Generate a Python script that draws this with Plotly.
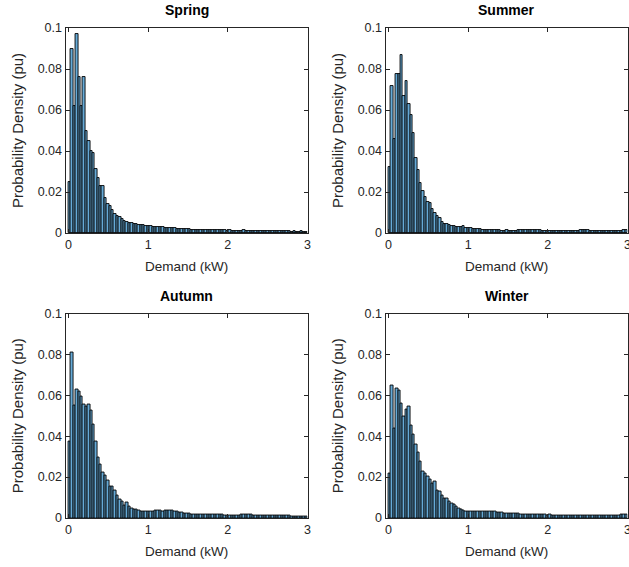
import plotly.graph_objects as go

# Histogram bins: 0.03 kW wide, 0 to 3 kW
BIN_WIDTH = 0.03
N_BINS = 100
bin_centers = [BIN_WIDTH * (k + 0.5) for k in range(N_BINS)]

seasons = ["Spring", "Summer", "Autumn", "Winter"]

spring = [
    0.025, 0.090, 0.062, 0.097, 0.076, 0.062, 0.076, 0.050, 0.045, 0.040,
    0.039, 0.031, 0.027, 0.023, 0.023, 0.017, 0.014, 0.013, 0.011, 0.0095,
    0.0085, 0.0078, 0.0068, 0.0060, 0.0055, 0.0050, 0.0047, 0.0045, 0.0043, 0.0041,
    0.0040, 0.0038, 0.0036, 0.0035, 0.0033, 0.0031, 0.0030, 0.0029, 0.0028, 0.0027,
    0.0025, 0.0025, 0.0023, 0.0022, 0.0022, 0.0021, 0.0020, 0.0019, 0.0019, 0.0018,
    0.0018, 0.0017, 0.0017, 0.0016, 0.0016, 0.0015, 0.0016, 0.0015, 0.0014, 0.0015,
    0.0014, 0.0014, 0.0013, 0.0014, 0.0013, 0.0013, 0.0012, 0.0013, 0.0012, 0.0012,
    0.0012, 0.0011, 0.0012, 0.0013, 0.0011, 0.0011, 0.0010, 0.0011, 0.0010, 0.0010,
    0.0010, 0.0011, 0.0009, 0.0010, 0.0009, 0.0009, 0.0010, 0.0008, 0.0009, 0.0008,
    0.0008, 0.0009, 0.0008, 0.0007, 0.0008, 0.0007, 0.0007, 0.0008, 0.0006, 0.0007,
]

summer = [
    0.0324, 0.0717, 0.0460, 0.0774, 0.0774, 0.0868, 0.0670, 0.0740, 0.0630, 0.0576,
    0.0486, 0.0364, 0.0307, 0.0246, 0.0205, 0.0177, 0.0153, 0.0145, 0.0115, 0.0096,
    0.0083, 0.0072, 0.0055, 0.0046, 0.0042, 0.0040, 0.0034, 0.0033, 0.0030, 0.0029,
    0.0028, 0.0032, 0.0026, 0.0024, 0.0023, 0.0021, 0.0020, 0.0019, 0.0018, 0.0017,
    0.0016, 0.0016, 0.0015, 0.0014, 0.0014, 0.0013, 0.0013, 0.0012, 0.0012, 0.0013,
    0.0012, 0.0011, 0.0012, 0.0012, 0.0013, 0.0014, 0.0013, 0.0014, 0.0015, 0.0016,
    0.0017, 0.0016, 0.0015, 0.0013, 0.0012, 0.0011, 0.0011, 0.0010, 0.0010, 0.0011,
    0.0010, 0.0010, 0.0011, 0.0010, 0.0009, 0.0010, 0.0009, 0.0010, 0.0011, 0.0012,
    0.0013, 0.0014, 0.0015, 0.0014, 0.0012, 0.0011, 0.0010, 0.0009, 0.0009, 0.0008,
    0.0008, 0.0009, 0.0008, 0.0008, 0.0009, 0.0010, 0.0011, 0.0012, 0.0013, 0.0014,
]

autumn = [
    0.0374, 0.0810, 0.0550, 0.0627, 0.0617, 0.0593, 0.0553, 0.0546, 0.0557, 0.0525,
    0.0455, 0.0376, 0.0298, 0.0263, 0.0222, 0.0206, 0.0182, 0.0156, 0.0152, 0.0136,
    0.0112, 0.0091, 0.0083, 0.0063, 0.0075, 0.0058, 0.0047, 0.0042, 0.0042, 0.0036,
    0.0034, 0.0033, 0.0032, 0.0033, 0.0031, 0.0034, 0.0036, 0.0038, 0.0036, 0.0033,
    0.0035, 0.0038, 0.0039, 0.0036, 0.0032, 0.0030, 0.0027, 0.0025, 0.0022, 0.0021,
    0.0020, 0.0019, 0.0018, 0.0019, 0.0018, 0.0018, 0.0017, 0.0018, 0.0018, 0.0017,
    0.0017, 0.0016, 0.0017, 0.0016, 0.0015, 0.0014, 0.0013, 0.0013, 0.0014, 0.0013,
    0.0013, 0.0014, 0.0015, 0.0017, 0.0018, 0.0017, 0.0015, 0.0013, 0.0012, 0.0011,
    0.0011, 0.0011, 0.0010, 0.0011, 0.0010, 0.0010, 0.0011, 0.0010, 0.0011, 0.0013,
    0.0014, 0.0013, 0.0010, 0.0009, 0.0008, 0.0008, 0.0009, 0.0008, 0.0008, 0.0007,
]

winter = [
    0.0220, 0.0647, 0.0436, 0.0635, 0.0622, 0.0560, 0.0496, 0.0533, 0.0546, 0.0452,
    0.0408, 0.0358, 0.0322, 0.0274, 0.0225, 0.0217, 0.0201, 0.0190, 0.0168, 0.0178,
    0.0136, 0.0128, 0.0112, 0.0097, 0.0097, 0.0082, 0.0072, 0.0065, 0.0055, 0.0048,
    0.0042, 0.0038, 0.0034, 0.0033, 0.0032, 0.0033, 0.0033, 0.0034, 0.0033, 0.0032,
    0.0033, 0.0032, 0.0031, 0.0030, 0.0031, 0.0029, 0.0028, 0.0026, 0.0024, 0.0023,
    0.0022, 0.0021, 0.0021, 0.0020, 0.0020, 0.0019, 0.0019, 0.0018, 0.0018, 0.0017,
    0.0017, 0.0016, 0.0016, 0.0016, 0.0015, 0.0015, 0.0014, 0.0015, 0.0014, 0.0014,
    0.0013, 0.0014, 0.0013, 0.0013, 0.0012, 0.0013, 0.0012, 0.0012, 0.0011, 0.0012,
    0.0011, 0.0012, 0.0011, 0.0011, 0.0010, 0.0011, 0.0010, 0.0011, 0.0012, 0.0013,
    0.0013, 0.0012, 0.0011, 0.0011, 0.0012, 0.0013, 0.0014, 0.0016, 0.0017, 0.0018,
]

series = [spring, summer, autumn, winter]

x_ticks = [0, 1, 2, 3]
x_tick_labels = ["0", "1", "2", "3"]
y_ticks = [0, 0.02, 0.04, 0.06, 0.08, 0.1]
y_tick_labels = ["0", "0.02", "0.04", "0.06", "0.08", "0.1"]

W, H = 629, 567
FONT = "Liberation Sans, Arial, Helvetica, sans-serif"
AXIS_COLOR = "#262626"
BAR_FILL = "rgb(102,170,215)"


def px_x(v):
    return v / W


def px_y(v):
    return 1 - v / H


# Panel boxes in pixels: (left, right, top, bottom)
boxes = [
    (65.5, 307.5, 28.0, 233.0),
    (385.5, 627.5, 28.0, 233.0),
    (65.5, 307.5, 313.5, 518.0),
    (385.5, 627.5, 313.5, 518.0),
]

fig = go.Figure()
layout = dict(
    width=W,
    height=H,
    autosize=False,
    margin=dict(l=0, r=0, t=0, b=0, pad=0, autoexpand=False),
    paper_bgcolor="white",
    plot_bgcolor="white",
    showlegend=False,
    bargap=0,
    font=dict(family=FONT, color=AXIS_COLOR, size=12),
)
annotations = []

for i, (name, vals, box) in enumerate(zip(seasons, series, boxes)):
    idx = "" if i == 0 else str(i + 1)
    left, right, top, bottom = box
    fig.add_trace(go.Bar(
        x=bin_centers,
        y=vals,
        width=BIN_WIDTH,
        marker=dict(color=BAR_FILL, line=dict(color="black", width=0.9)),
        xaxis="x" + idx,
        yaxis="y" + idx,
    ))
    common = dict(
        ticks="inside",
        ticklen=4,
        tickcolor=AXIS_COLOR,
        showline=True,
        linecolor=AXIS_COLOR,
        linewidth=1,
        mirror="ticks",
        showgrid=False,
        zeroline=False,
        automargin=False,
        ticklabeloverflow="allow",
        tickfont=dict(size=12.5, color=AXIS_COLOR),
    )
    layout["xaxis" + idx] = dict(
        domain=[px_x(left), px_x(right)],
        anchor="y" + idx,
        range=[-0.0376, 3.0],
        tickvals=x_ticks,
        ticktext=x_tick_labels,
        **common,
    )
    layout["yaxis" + idx] = dict(
        domain=[px_y(bottom), px_y(top)],
        anchor="x" + idx,
        range=[0, 0.1],
        tickvals=y_ticks,
        ticktext=y_tick_labels,
        **common,
    )
    cx = (left + right) / 2
    cy = (top + bottom) / 2
    # panel title
    annotations.append(dict(
        text="<b>%s</b>" % name, x=px_x(cx), y=px_y(top - 18),
        xref="paper", yref="paper", showarrow=False,
        xanchor="center", yanchor="middle",
        font=dict(size=14, color="black", family=FONT),
    ))
    # x axis title
    annotations.append(dict(
        text="Demand (kW)", x=px_x(cx), y=px_y(bottom + 33),
        xref="paper", yref="paper", showarrow=False,
        xanchor="center", yanchor="middle",
        font=dict(size=13.5, color=AXIS_COLOR, family=FONT),
    ))
    # y axis title
    annotations.append(dict(
        text="Probability Density (pu)", x=px_x(left - 48), y=px_y(cy),
        xref="paper", yref="paper", showarrow=False,
        xanchor="center", yanchor="middle", textangle=-90,
        font=dict(size=15, color=AXIS_COLOR, family=FONT),
    ))

layout["annotations"] = annotations
fig.update_layout(**layout)
fig.write_html("out.html")
